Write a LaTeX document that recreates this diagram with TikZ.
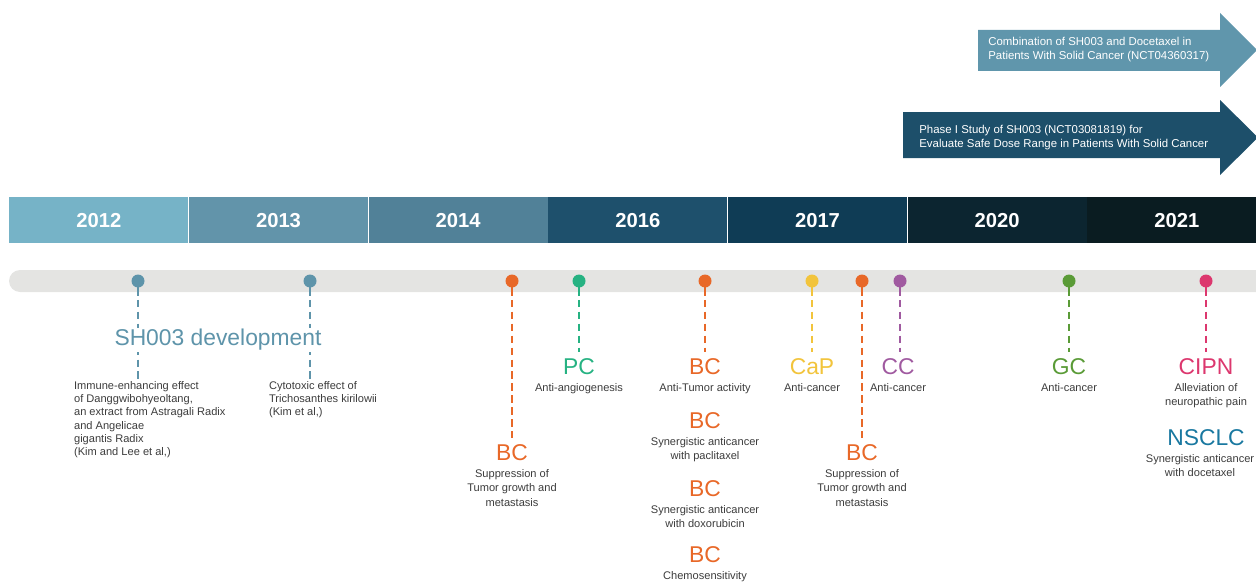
\documentclass[tikz,border=0pt]{standalone}
\usepackage{fontspec}
\setmainfont{Liberation Sans}
\usetikzlibrary{positioning}
\definecolor{YearA}{RGB}{118,179,199}
\definecolor{YearB}{RGB}{98,148,170}
\definecolor{YearC}{RGB}{81,129,152}
\definecolor{YearD}{RGB}{30,80,108}
\definecolor{YearE}{RGB}{15,60,85}
\definecolor{YearF}{RGB}{12,37,48}
\definecolor{YearG}{RGB}{10,28,33}
\definecolor{TrialLight}{RGB}{96,150,172}
\definecolor{TrialDark}{RGB}{29,79,106}
\definecolor{RailGray}{RGB}{228,228,226}
\definecolor{SteelBlue}{RGB}{94,148,170}
\definecolor{HotOrange}{RGB}{232,104,40}
\definecolor{MintGreen}{RGB}{38,178,130}
\definecolor{SunYellow}{RGB}{242,196,60}
\definecolor{Plum}{RGB}{160,90,160}
\definecolor{LeafGreen}{RGB}{90,155,55}
\definecolor{Raspberry}{RGB}{220,55,110}
\definecolor{OceanBlue}{RGB}{25,120,160}
\definecolor{NoteGray}{RGB}{60,60,60}
\tikzset{
  yearbox/.style={fill=#1,text=white,minimum width=3.58cm,minimum height=0.92cm,
    inner sep=0pt,font=\fontsize{11.5}{13}\selectfont\bfseries},
  trialtext/.style={text=white,align=left,inner sep=0pt,anchor=west,
    font=\fontsize{6.5}{8}\selectfont},
  eventdot/.style={circle,fill=#1,minimum size=0.26cm,inner sep=0pt},
  eventstem/.style={draw=#1,line width=1.3pt},
  eventline/.style={draw=#1,line width=0.8pt,dash pattern=on 4.2pt off 2.6pt,
    shorten >=2.5pt},
  tagtext/.style={text=#1,inner sep=1pt,font=\fontsize{13}{15}\selectfont},
  notetext/.style={text=NoteGray,inner sep=1pt,align=center,
    font=\fontsize{6.3}{8.2}\selectfont},
}

\begin{document}
\begin{tikzpicture}[x=0.02cm,y=-0.02cm]
  \useasboundingbox (0,0) rectangle (1256,581);
  \clip (0,0) rectangle (1256,581);

  % clinical trials
  \fill[TrialLight] (978,30) -- (1220,30) -- (1220,13) -- (1257,50) -- (1220,87)
    -- (1220,71) -- (978,71) -- cycle;
  \fill[TrialDark] (903,112) -- (1220,112) -- (1220,100) -- (1258,137.5) -- (1220,175)
    -- (1220,158) -- (903,158) -- cycle;
  \node[trialtext] (combo) at (988,50) {Combination of SH003 and Docetaxel in\\Patients With Solid Cancer (NCT04360317)};
  \node[trialtext] (phaseone) at (919,138) {Phase I Study of SH003 (NCT03081819) for\\Evaluate Safe Dose Range in Patients With Solid Cancer};

  % years
  \node[yearbox=YearA,anchor=north west] (y2012) at (9,197) {2012};
  \node[yearbox=YearB,right=0pt of y2012] (y2013) {2013};
  \node[yearbox=YearC,right=0pt of y2013] (y2014) {2014};
  \node[yearbox=YearD,right=0pt of y2014] (y2016) {2016};
  \node[yearbox=YearE,right=0pt of y2016] (y2017) {2017};
  \node[yearbox=YearF,right=0pt of y2017] (y2020) {2020};
  \node[yearbox=YearG,right=0pt of y2020] (y2021) {2021};

  % rail with pins
  \fill[RailGray,rounded corners=0.22cm] (9,270) rectangle (1300,292);
  \draw[eventstem=SteelBlue] (138,281) -- (138,296);
  \draw[eventstem=SteelBlue] (310,281) -- (310,296);
  \draw[eventstem=HotOrange] (512,281) -- (512,296);
  \draw[eventstem=MintGreen] (579,281) -- (579,296);
  \draw[eventstem=HotOrange] (705,281) -- (705,296);
  \draw[eventstem=SunYellow] (812,281) -- (812,296);
  \draw[eventstem=HotOrange] (862,281) -- (862,296);
  \draw[eventstem=Plum] (900,281) -- (900,296);
  \draw[eventstem=LeafGreen] (1069,281) -- (1069,296);
  \draw[eventstem=Raspberry] (1206,281) -- (1206,296);
  \node[eventdot=SteelBlue] (pinA) at (138,281) {};
  \node[eventdot=SteelBlue] (pinB) at (310,281) {};
  \node[eventdot=HotOrange] (pinC) at (512,281) {};
  \node[eventdot=MintGreen] (pinD) at (579,281) {};
  \node[eventdot=HotOrange] (pinE) at (705,281) {};
  \node[eventdot=SunYellow] (pinF) at (812,281) {};
  \node[eventdot=HotOrange] (pinG) at (862,281) {};
  \node[eventdot=Plum] (pinH) at (900,281) {};
  \node[eventdot=LeafGreen] (pinI) at (1069,281) {};
  \node[eventdot=Raspberry] (pinJ) at (1206,281) {};

  % 2012-2013
  \node[notetext,align=left,anchor=north west,font=\fontsize{6.3}{7.6}\selectfont] (immune) at (72,379)
    {Immune-enhancing effect\\of Danggwibohyeoltang,\\an extract from Astragali Radix\\and Angelicae\\gigantis Radix\\(Kim and Lee et al,)};
  \node[notetext,align=left,anchor=north west,font=\fontsize{6.3}{7.6}\selectfont] (cyto) at (267,379)
    {Cytotoxic effect of\\Trichosanthes kirilowii\\(Kim et al,)};

  % 2014-2016
  \node[tagtext=HotOrange] (bcA) at (512,453) {BC};
  \node[notetext,below=2.4pt of bcA] (bcAnote) {Suppression of\\Tumor growth and\\metastasis};
  \node[tagtext=MintGreen] (pc) at (579,367) {PC};
  \node[notetext,below=2.4pt of pc] (pcnote) {Anti-angiogenesis};
  \node[tagtext=HotOrange] (bcB) at (705,367) {BC};
  \node[notetext,below=2.4pt of bcB] (bcBnote) {Anti-Tumor activity};
  \node[tagtext=HotOrange,below=0.29cm of bcBnote] (bcC) {BC};
  \node[notetext,below=2.4pt of bcC] (bcCnote) {Synergistic anticancer\\with paclitaxel};
  \node[tagtext=HotOrange,below=0.29cm of bcCnote] (bcD) {BC};
  \node[notetext,below=2.4pt of bcD] (bcDnote) {Synergistic anticancer\\with doxorubicin};
  \node[tagtext=HotOrange,below=0.29cm of bcDnote] (bcE) {BC};
  \node[notetext,below=2.4pt of bcE] (bcEnote) {Chemosensitivity};

  % 2017
  \node[tagtext=SunYellow] (cap) at (812,367) {CaP};
  \node[notetext,below=2.4pt of cap] (capnote) {Anti-cancer};
  \node[tagtext=HotOrange] (bcF) at (862,453) {BC};
  \node[notetext,below=2.4pt of bcF] (bcFnote) {Suppression of\\Tumor growth and\\metastasis};
  \node[tagtext=Plum] (cc) at (898,367) {CC};
  \node[notetext,below=2.4pt of cc] (ccnote) {Anti-cancer};

  % 2020-2021
  \node[tagtext=LeafGreen] (gc) at (1069,367) {GC};
  \node[notetext,below=2.4pt of gc] (gcnote) {Anti-cancer};
  \node[tagtext=Raspberry] (cipn) at (1206,367) {CIPN};
  \node[notetext,below=2.4pt of cipn] (cipnnote) {Alleviation of\\neuropathic pain};
  \node[tagtext=OceanBlue,below=0.34cm of cipnnote] (nsclc) {NSCLC};
  \node[notetext,below=2.4pt of nsclc,xshift=-0.12cm] (nsclcnote) {Synergistic anticancer\\with docetaxel};

  % dashed leaders
  \draw[eventline=SteelBlue,shorten >=0pt] (pinA.south) -- (pinA |- immune.north);
  \draw[eventline=SteelBlue,shorten >=0pt] (pinB.south) -- (pinB |- cyto.north);
  \draw[eventline=HotOrange] (pinC.south) -- (bcA.north);
  \draw[eventline=MintGreen] (pinD.south) -- (pc.north);
  \draw[eventline=HotOrange] (pinE.south) -- (bcB.north);
  \draw[eventline=SunYellow] (pinF.south) -- (cap.north);
  \draw[eventline=HotOrange] (pinG.south) -- (bcF.north);
  \draw[eventline=Plum] (pinH.south) -- (pinH |- cc.north);
  \draw[eventline=LeafGreen] (pinI.south) -- (gc.north);
  \draw[eventline=Raspberry] (pinJ.south) -- (cipn.north);

  \node[tagtext=SteelBlue,fill=white,inner ysep=0.6pt] (devel) at (218,340) {SH003 development};
\end{tikzpicture}
\end{document}
